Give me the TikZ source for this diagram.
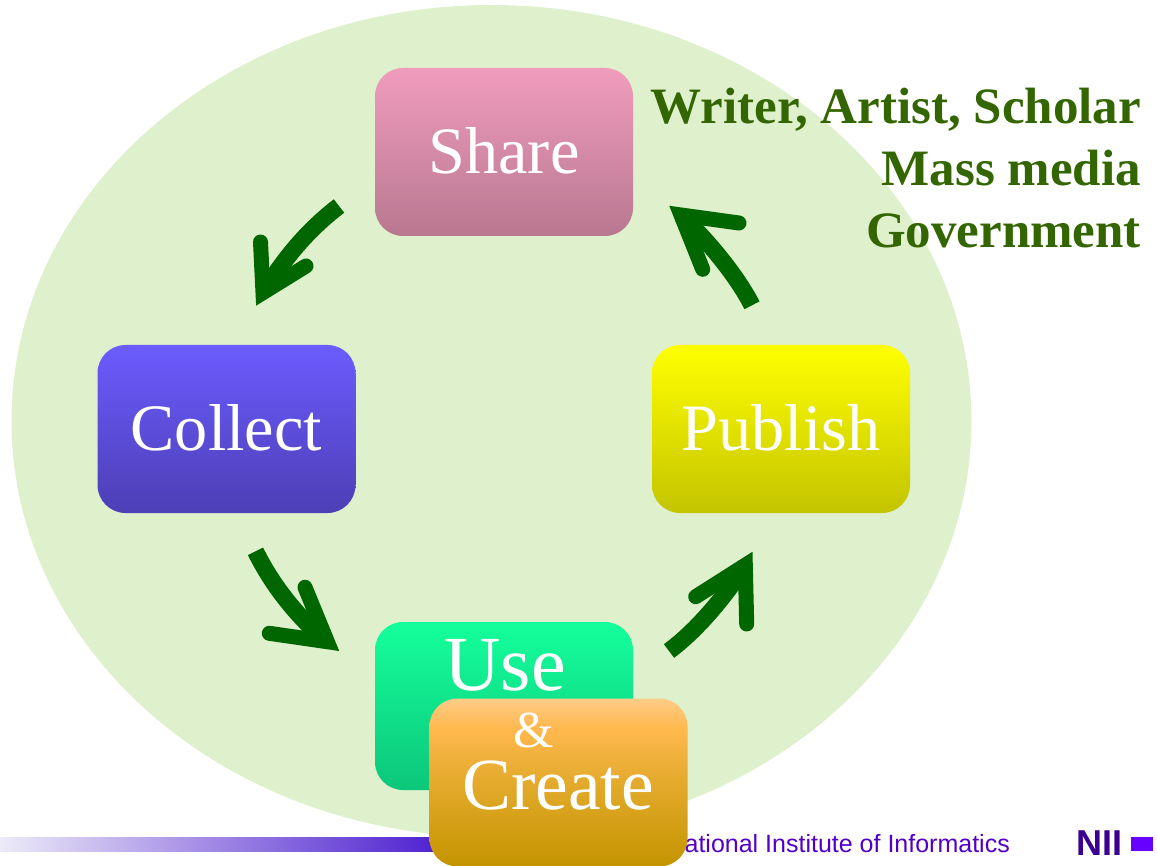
\documentclass[tikz,border=0pt]{standalone}
\usepackage{fontspec}
\usetikzlibrary{shapes.geometric}
\setmainfont{Liberation Serif}
\newfontfamily\footfont{Liberation Sans}
\definecolor{blobgreen}{HTML}{DFF0CC}
\definecolor{arrowgreen}{HTML}{006600}
\definecolor{rolegreen}{HTML}{336600}
\definecolor{niipurple}{HTML}{5200C8}
\definecolor{barend}{HTML}{4E20D0}
\definecolor{niidark}{HTML}{3A0090}
\definecolor{niisquare}{HTML}{6600FF}
\definecolor{bartint}{HTML}{ECEAF8}
\definecolor{orangeA}{HTML}{FFCC88}
\definecolor{orangeB}{HTML}{FFB84D}
\definecolor{orangeC}{HTML}{E3AA2C}
\definecolor{orangeD}{HTML}{C49400}
\pgfdeclareverticalshading{createfade}{100bp}{color(0bp)=(orangeD); color(25bp)=(orangeD); color(50bp)=(orangeC); color(66bp)=(orangeB); color(75bp)=(orangeA); color(100bp)=(orangeA)}
\tikzset{
  stage/.style={draw=none,rounded corners=28pt,minimum width=258pt,minimum height=168pt,inner sep=0pt,text=white,font=\fontsize{66.3}{66}\selectfont},
  stagetext/.style={text=white,inner sep=0pt,anchor=base},
  shaft/.style={draw=arrowgreen,line width=17pt,line cap=butt},
  barbs/.style={draw=arrowgreen,line width=15pt,line cap=round,line join=miter,miter limit=10},
  role/.style={text=rolegreen,inner sep=0pt,anchor=base east,font=\fontsize{51}{51}\selectfont\bfseries},
}
\begin{document}
\begin{tikzpicture}[x=1pt,y=-1pt]
\useasboundingbox (0,0) rectangle (1157,866);
\node[ellipse,draw=none,fill=blobgreen,minimum width=960pt,minimum height=832pt,inner sep=0pt] (blob) at (491.5,421) {};
\node[draw=none,inner sep=0pt,minimum width=440pt,minimum height=14pt,left color=bartint,right color=barend,anchor=west] (bar) at (0,844) {};
\node[inner sep=0pt,anchor=base east,text=niipurple,font=\footfont\fontsize{25}{25}\selectfont] (foot) at (1010,852) {National Institute of Informatics};
\node[inner sep=0pt,anchor=base west,text=niidark,font=\footfont\bfseries\fontsize{36}{36}\selectfont] (nii) at (1076,855.5) {NII};
\node[draw=none,fill=niisquare,minimum width=22pt,minimum height=14pt,inner sep=0pt] (sq) at (1142,844) {};

\node[stage,top color={rgb,255:red,240;green,156;blue,188},bottom color={rgb,255:red,184;green,120;blue,144}] (share) at (504,152) {\raisebox{2pt}{Share}};
\node[stage,top color={rgb,255:red,107;green,92;blue,255},bottom color={rgb,255:red,77;green,63;blue,181}] (collect) at (226.5,429) {\raisebox{2pt}{Collect}};
\node[stage,top color={rgb,255:red,255;green,255;blue,0},bottom color={rgb,255:red,196;green,196;blue,0}] (publish) at (781,429) {\raisebox{2pt}{Publish}};
\node[stage,top color={rgb,255:red,20;green,255;blue,156},bottom color={rgb,255:red,12;green,198;blue,122}] (use) at (504,706) {};
\node[stagetext,font=\fontsize{78}{78}\selectfont] (usetext) at (505,690) {Use};
\node[stage,shading=createfade] (create) at (558.5,782.5) {};
\node[stagetext,font=\fontsize{52}{52}\selectfont] (amp) at (534,747) {\&};
\node[stagetext,font=\fontsize{73.5}{73}\selectfont] (createtext) at (558,809) {Create};

\node[role] (r1) at (1141,124) {Writer, Artist, Scholar};
\node[role] (r2) at (1141,186) {Mass media};
\node[role] (r3) at (1141,248) {Government};

% Share -> Collect
\coordinate (a1s) at (339,206); \coordinate (a1v) at (263,292.6);
\coordinate (a1b) at (260.5,242); \coordinate (a1c) at (306,266);
\draw[shaft] (a1s) .. controls (305,232) and (282,262) .. (a1v);
\draw[barbs] (a1b) -- (a1v) -- (a1c);
% Collect -> Use
\coordinate (a2s) at (255.5,551.3); \coordinate (a2v) at (327.3,641.7);
\coordinate (a2b) at (305,587.3); \coordinate (a2c) at (269.3,633.3);
\draw[shaft] (a2s) .. controls (272,585) and (298,618) .. (a2v);
\draw[barbs] (a2b) -- (a2v) -- (a2c);
% Use -> Publish
\coordinate (a3s) at (669,651); \coordinate (a3v) at (745.3,565.2);
\coordinate (a3b) at (695.7,596.7); \coordinate (a3c) at (746.7,624);
\draw[shaft] (a3s) .. controls (700,628) and (728,592) .. (a3v);
\draw[barbs] (a3b) -- (a3v) -- (a3c);
% Publish -> Share
\coordinate (a4s) at (752,305.3); \coordinate (a4v) at (681,215);
\coordinate (a4b) at (739,223); \coordinate (a4c) at (702.7,269.3);
\draw[shaft] (a4s) .. controls (738,278) and (712,245) .. (a4v);
\draw[barbs] (a4b) -- (a4v) -- (a4c);
\end{tikzpicture}
\end{document}
